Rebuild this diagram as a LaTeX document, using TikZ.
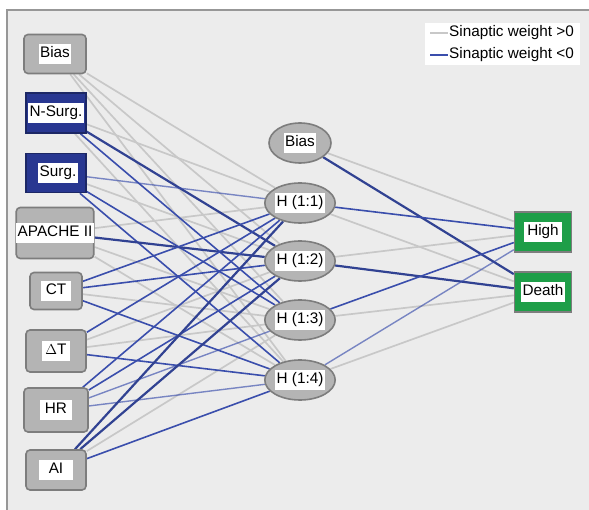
\documentclass[tikz,border=0pt]{standalone}
\usepackage{fontspec}
\setmainfont{Liberation Sans}
\usepackage{xcolor}
\usepackage{tikz}
\usetikzlibrary{shapes.geometric,backgrounds}

\definecolor{panelbg}{RGB}{236,236,236}
\definecolor{boxgray}{RGB}{180,180,180}
\definecolor{boxedge}{RGB}{125,125,125}
\definecolor{nodeblue}{RGB}{40,55,145}
\definecolor{outgreen}{RGB}{30,158,72}
\definecolor{wgray}{RGB}{200,200,200}
\definecolor{wblue}{RGB}{58,78,172}

\newcommand{\lbl}[1]{{\setlength{\fboxsep}{1.5pt}\colorbox{white}{\strut #1}}}

\tikzset{
    inbox/.style={draw=boxedge,line width=1.6pt,rounded corners=4pt,fill=boxgray,
        inner sep=0pt,minimum width=60pt,minimum height=40pt},
    hidnode/.style={ellipse,draw=boxedge,line width=1.6pt,fill=boxgray,
        inner sep=0pt,minimum width=62pt,minimum height=40pt},
    outbox/.style={draw=boxedge,line width=1.4pt,fill=outgreen,
        inner sep=0pt,minimum width=57pt,minimum height=40pt},
    wpos/.style={draw=wgray,line width=1.7pt},
    wneg/.style={draw=wblue,line width=1.6pt},
    wnegb/.style={draw=wblue!85!black,line width=2.2pt},
    wnegl/.style={draw=wblue,line width=1.4pt,opacity=0.65}
}

\begin{document}
\begin{tikzpicture}[x=1pt,y=-1pt,font=\fontsize{15.3}{17}\selectfont]
    \useasboundingbox (0,0) rectangle (589,510);

    % Input layer
    \node[inbox,minimum width=62pt,minimum height=39pt] (bin) at (55,54) {\lbl{Bias}};
    \node[inbox,fill=nodeblue,draw=nodeblue!70!black,rounded corners=0pt] (nsurg) at (56,113) {\lbl{N-Surg.}};
    \node[inbox,fill=nodeblue,draw=nodeblue!70!black,rounded corners=0pt,minimum height=39pt] (surg) at (56,173) {\hspace{4pt}\lbl{Surg.}};
    \node[inbox,minimum width=76pt,minimum height=51pt] (apache) at (55,233) {\lbl{APACHE II}};
    \node[inbox,minimum width=52pt,minimum height=37pt] (ct) at (56,291) {\lbl{\hspace{3pt}CT\hspace{3pt}}};
    \node[inbox,minimum height=42pt] (dt) at (56,351) {\raisebox{-6pt}{\lbl{\hspace{2pt}$\Delta$T\hspace{2pt}}}};
    \node[inbox,minimum width=64pt,minimum height=44pt] (hr) at (56,410) {\lbl{\hspace{3pt}HR\hspace{3pt}}};
    \node[inbox] (ai) at (56,470) {\lbl{\hspace{8pt}AI\hspace{8pt}}};

    % Hidden layer
    \node[hidnode] (hb) at (300,143) {\lbl{Bias}};
    \foreach \i/\y in {1/203,2/261,3/320,4/380} {
        \node[hidnode] (h\i) at (300,\y) {\lbl{H (1:\i)}};
    }

    % Output layer
    \node[outbox] (high) at (543,232) {\lbl{\hspace{2pt}High\hspace{2pt}}};
    \node[outbox] (death) at (543,292) {\lbl{Death}};

    % Legend
    \node[fill=white,minimum width=155pt,minimum height=42pt,inner sep=0pt] (legend) at (502.5,44) {};
    \node[anchor=west,inner sep=1pt] (lpos) at (448,33) {Sinaptic weight >0};
    \node[anchor=west,inner sep=1pt] (lneg) at (448,55) {Sinaptic weight <0};
    \coordinate (lposa) at (430,33);
    \coordinate (lnega) at (430,55);
    \draw[wpos] (lposa) -- (lpos.west);
    \draw[wneg,line width=1.8pt] (lnega) -- (lneg.west);

    \begin{scope}[on background layer]
        % Panel
        \fill[panelbg] (7,10) rectangle (589,510);
        \draw[boxedge!80,line width=1.5pt] (7,510) -- (7,10) -- (589,10);

        % Input to hidden
        \foreach \a/\b/\s in {bin/h1/wpos,bin/h2/wpos,bin/h3/wpos,bin/h4/wpos,
            nsurg/h1/wpos,nsurg/h4/wpos,surg/h2/wpos,apache/h1/wpos,apache/h3/wpos,
            apache/h4/wpos,ct/h3/wpos,dt/h2/wpos,dt/h3/wpos,ai/h3/wpos,
            nsurg/h2/wnegb,nsurg/h3/wneg,surg/h1/wnegl,surg/h3/wneg,surg/h4/wneg,
            apache/h2/wnegb,ct/h1/wneg,ct/h2/wneg,ct/h4/wneg,dt/h1/wneg,dt/h4/wneg,
            hr/h1/wneg,hr/h2/wneg,hr/h3/wnegl,hr/h4/wnegl,
            ai/h1/wnegb,ai/h2/wnegb,ai/h4/wneg} {
            \draw[\s] (\a) -- (\b);
        }

        % Hidden to output
        \foreach \a/\b/\s in {hb/high/wpos,h1/death/wpos,h2/high/wpos,h3/death/wpos,
            h4/death/wpos,hb/death/wnegb,h1/high/wneg,h2/death/wnegb,h3/high/wneg,
            h4/high/wnegl} {
            \draw[\s] (\a) -- (\b);
        }
    \end{scope}
\end{tikzpicture}
\end{document}
